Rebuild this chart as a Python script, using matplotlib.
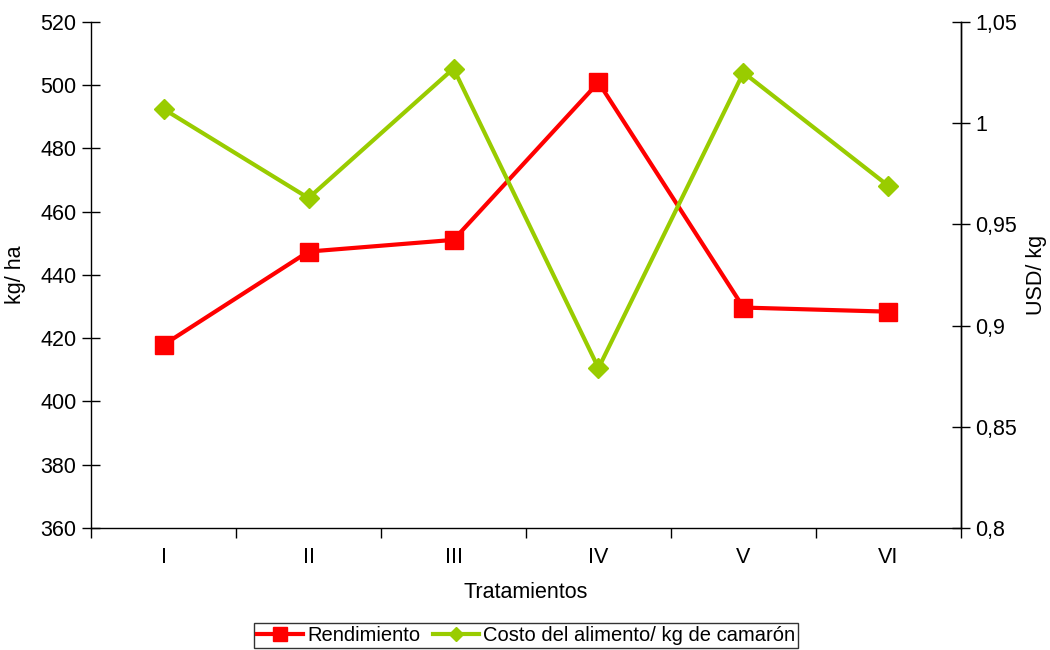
import matplotlib.pyplot as plt
import numpy as np

plt.rcParams['font.family'] = ['Liberation Sans', 'DejaVu Sans']

tratamientos = ['I', 'II', 'III', 'IV', 'V', 'VI']
rendimiento = [417.9, 447.4, 451.1, 500.9, 429.7, 428.4]          # kg/ha
costo = [1.007, 0.963, 1.027, 0.879, 1.025, 0.969]               # USD/kg
left_ticks = [360, 380, 400, 420, 440, 460, 480, 500, 520]
right_ticks = [0.8, 0.85, 0.9, 0.95, 1.0, 1.05]
right_labels = ['0,8', '0,85', '0,9', '0,95', '1', '1,05']

fig = plt.figure(figsize=(10.5, 6.5), dpi=100)
ax = fig.add_axes([0.0867, 0.1877, 0.8285, 0.7785])
ax2 = ax.twinx()

x = np.arange(len(tratamientos))
l1, = ax.plot(x, rendimiento, color='#FF0000', lw=3, marker='s', ms=13,
              label='Rendimiento', zorder=3)
l2, = ax2.plot(x, costo, color='#99CC00', lw=3, marker='D', ms=10,
               label='Costo del alimento/ kg de camarón', zorder=3)

ax.set_xlim(-0.5, len(tratamientos) - 0.5)
ax.set_ylim(360, 520)
ax2.set_ylim(0.8, 1.05)
ax.set_yticks(left_ticks)
ax2.set_yticks(right_ticks)
ax2.set_yticklabels(right_labels)

fs = 15.5
ax.set_xticks(x)
ax.set_xticklabels(tratamientos)
ax.set_xticks(np.arange(-0.5, len(tratamientos)), minor=True)
ax.tick_params(axis='x', which='major', length=0, pad=14, labelsize=fs)
ax.tick_params(axis='x', which='minor', length=7, direction='out', width=1)
ax.tick_params(axis='y', direction='inout', length=13, width=1, labelsize=fs, pad=4)
ax2.tick_params(axis='y', direction='inout', length=13, width=1, labelsize=fs, pad=4)

for a in (ax, ax2):
    a.spines['top'].set_visible(False)
    for s in a.spines.values():
        s.set_linewidth(1)
ax2.spines['left'].set_visible(False)
ax2.spines['bottom'].set_visible(False)

ax.set_xlabel('Tratamientos', fontsize=fs, labelpad=10)
ax.set_ylabel('kg/ ha', fontsize=fs, labelpad=10)
ax2.set_ylabel('USD/ kg', fontsize=fs, labelpad=6)

leg = fig.legend(handles=[l1, l2], loc='upper center', bbox_to_anchor=(0.501, 0.042),
                 ncol=2, fontsize=14.5, frameon=True, fancybox=False,
                 edgecolor='black', handlelength=2.3, handletextpad=0.2,
                 columnspacing=0.6, borderpad=0.15, borderaxespad=0,
                 markerscale=0.75)
leg.get_frame().set_linewidth(1)

fig.savefig('out.png', dpi=100)
